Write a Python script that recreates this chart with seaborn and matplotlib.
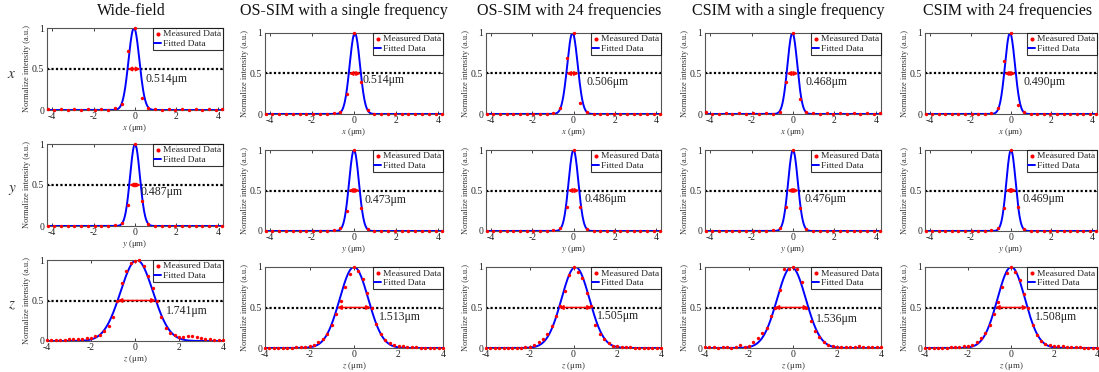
import numpy as np
import pandas as pd
import matplotlib
matplotlib.use("Agg")
import matplotlib.pyplot as plt
import seaborn as sns

# ---------------- data ----------------
titles = ["Wide-field", "OS-SIM with a single frequency", "OS-SIM with 24 frequencies",
          "CSIM with a single frequency", "CSIM with 24 frequencies"]
row_names = ["x", "y", "z"]
xtick_vals = [-4, -2, 0, 2, 4]
ytick_vals = [0, 0.5, 1]

# lateral sampling positions (um)
lat_x = [-4.225, -3.9, -3.575, -3.25, -2.925, -2.6, -2.275, -1.95, -1.625, -1.3, -0.975,
         -0.65, -0.325, 0.0, 0.325, 0.65,
         0.975, 1.3, 1.625, 1.95, 2.275, 2.6, 2.925, 3.25, 3.575, 3.9, 4.225]
# axial sampling positions (um)
ax_x = [-4.0, -3.8, -3.6, -3.4, -3.2, -3.0, -2.8, -2.6, -2.4, -2.2, -2.0, -1.8, -1.6, -1.4,
        -1.2, -1.0, -0.8, -0.6, -0.4, -0.2, 0.0, 0.2, 0.4, 0.6, 0.8, 1.0, 1.2, 1.4, 1.6,
        1.8, 2.0, 2.2, 2.4, 2.6, 2.8, 3.0, 3.2, 3.4, 3.6, 3.8, 4.0]

# measured data, x profiles
wf_x   = [0.01, 0.005, 0.01, 0.005, 0.01, 0.005, 0.01, 0.005, 0.01, 0.005, 0.02,
          0.07, 0.72, 1.0, 0.15, 0.02,
          0.01, 0.005, 0.01, 0.005, 0.01, 0.005, 0.01, 0.005, 0.01, 0.005, 0.01]
os1_x  = [0.005, 0.005, 0.005, 0.005, 0.005, 0.005, 0.005, 0.005, 0.005, 0.005, 0.01,
          0.02, 0.25, 1.0, 0.40, 0.045,
          0.005, 0.005, 0.005, 0.005, 0.005, 0.005, 0.005, 0.005, 0.005, 0.005, 0.005]
os24_x = [0.005, 0.005, 0.005, 0.005, 0.005, 0.005, 0.005, 0.005, 0.005, 0.005, 0.01,
          0.07, 0.69, 1.0, 0.13, 0.02,
          0.005, 0.005, 0.005, 0.005, 0.005, 0.005, 0.005, 0.005, 0.005, 0.005, 0.005]
cs1_x  = [0.03, 0.005, 0.005, 0.01, 0.005, 0.01, 0.005, 0.01, 0.005, 0.01, 0.005,
          0.03, 0.39, 1.0, 0.18, 0.02,
          0.01, 0.005, 0.01, 0.005, 0.015, 0.005, 0.01, 0.005, 0.01, 0.005, 0.01]
cs24_x = [0.005, 0.005, 0.005, 0.005, 0.005, 0.005, 0.005, 0.005, 0.005, 0.005, 0.01,
          0.07, 0.66, 1.0, 0.11, 0.02,
          0.005, 0.005, 0.005, 0.005, 0.005, 0.005, 0.005, 0.005, 0.005, 0.005, 0.005]
# measured data, y profiles
wf_y   = [0.005, 0.005, 0.005, 0.005, 0.005, 0.005, 0.005, 0.005, 0.005, 0.005, 0.01,
          0.04, 0.26, 1.0, 0.31, 0.03,
          0.005, 0.005, 0.005, 0.005, 0.005, 0.005, 0.005, 0.005, 0.005, 0.005, 0.005]
os1_y  = [0.005, 0.005, 0.005, 0.005, 0.005, 0.005, 0.005, 0.005, 0.005, 0.005, 0.01,
          0.04, 0.25, 1.0, 0.28, 0.03,
          0.005, 0.005, 0.005, 0.005, 0.005, 0.005, 0.005, 0.005, 0.005, 0.005, 0.005]
os24_y = [0.005, 0.005, 0.005, 0.005, 0.005, 0.005, 0.005, 0.005, 0.005, 0.005, 0.01,
          0.04, 0.30, 1.0, 0.30, 0.03,
          0.005, 0.005, 0.005, 0.005, 0.005, 0.005, 0.005, 0.005, 0.005, 0.005, 0.005]
cs1_y  = [0.005, 0.005, 0.005, 0.005, 0.005, 0.005, 0.005, 0.005, 0.005, 0.005, 0.01,
          0.04, 0.30, 1.0, 0.28, 0.03,
          0.005, 0.005, 0.005, 0.005, 0.005, 0.005, 0.005, 0.005, 0.005, 0.005, 0.005]
cs24_y = [0.005, 0.005, 0.005, 0.005, 0.005, 0.005, 0.005, 0.005, 0.005, 0.005, 0.01,
          0.04, 0.28, 1.0, 0.30, 0.03,
          0.005, 0.005, 0.005, 0.005, 0.005, 0.005, 0.005, 0.005, 0.005, 0.005, 0.005]
# measured data, z profiles
wf_z   = [0.01, 0.01, 0.01, 0.01, 0.015, 0.02, 0.02, 0.025, 0.03, 0.035, 0.04, 0.06, 0.08,
          0.12, 0.19, 0.30, 0.50, 0.72, 0.86, 0.96, 0.99, 1.0, 0.93, 0.80, 0.65, 0.50,
          0.30, 0.16, 0.10, 0.07, 0.05, 0.05, 0.06, 0.06, 0.05, 0.04, 0.03, 0.02, 0.015,
          0.01, 0.01]
os1_z  = [0.005, 0.005, 0.005, 0.005, 0.005, 0.005, 0.005, 0.01, 0.01, 0.015, 0.02, 0.04,
          0.07, 0.11, 0.17, 0.28, 0.42, 0.58, 0.75, 0.91, 1.0, 0.95, 0.85, 0.68, 0.50,
          0.30, 0.17, 0.10, 0.06, 0.04, 0.03, 0.02, 0.015, 0.01, 0.01, 0.005, 0.005, 0.005,
          0.005, 0.005, 0.005]
os24_z = [0.005, 0.005, 0.005, 0.005, 0.005, 0.005, 0.005, 0.005, 0.005, 0.01, 0.015, 0.04,
          0.07, 0.11, 0.17, 0.27, 0.40, 0.52, 0.70, 0.90, 1.0, 0.94, 0.86, 0.68, 0.52,
          0.29, 0.17, 0.11, 0.06, 0.03, 0.02, 0.015, 0.01, 0.01, 0.005, 0.005, 0.005, 0.005,
          0.005, 0.005, 0.005]
cs1_z  = [0.01, 0.01, 0.01, 0.005, 0.01, 0.01, 0.005, 0.01, 0.04, 0.015, 0.025, 0.07, 0.12,
          0.18, 0.25, 0.40, 0.50, 0.72, 0.98, 0.98, 1.0, 0.97, 0.81, 0.50, 0.33, 0.21,
          0.14, 0.08, 0.04, 0.02, 0.015, 0.01, 0.01, 0.015, 0.01, 0.02, 0.015, 0.01, 0.015,
          0.01, 0.01]
cs24_z = [0.005, 0.005, 0.005, 0.005, 0.005, 0.005, 0.01, 0.01, 0.015, 0.02, 0.025, 0.04,
          0.07, 0.12, 0.18, 0.28, 0.42, 0.57, 0.75, 0.92, 1.0, 0.94, 0.84, 0.67, 0.49,
          0.28, 0.16, 0.09, 0.05, 0.04, 0.03, 0.025, 0.02, 0.015, 0.01, 0.01, 0.01, 0.005,
          0.005, 0.005, 0.005]

measured = [[wf_x, os1_x, os24_x, cs1_x, cs24_x],
            [wf_y, os1_y, os24_y, cs1_y, cs24_y],
            [wf_z, os1_z, os24_z, cs1_z, cs24_z]]

# Gaussian fit parameters (center, FWHM in um)
fit_center = [[-0.05, 0.04, -0.05, -0.03, -0.05],
              [0.0, 0.0, 0.0, 0.0, 0.0],
              [0.08, 0.0, 0.09, -0.07, 0.01]]
fit_fwhm = [[0.62, 0.58, 0.60, 0.56, 0.58],
            [0.56, 0.55, 0.56, 0.55, 0.54],
            [1.741, 1.513, 1.505, 1.536, 1.508]]
fwhm_labels = [["0.514μm", "0.514μm", "0.506μm", "0.468μm", "0.490μm"],
               ["0.487μm", "0.473μm", "0.486μm", "0.476μm", "0.469μm"],
               ["1.741μm", "1.513μm", "1.505μm", "1.536μm", "1.508μm"]]
label_x = [[0.53, 0.40, 0.63, 0.62, 0.60],
           [0.26, 0.52, 0.55, 0.55, 0.55],
           [1.40, 1.10, 1.06, 1.04, 1.11]]
label_y = [[0.38, 0.42, 0.40, 0.40, 0.40],
           [0.41, 0.38, 0.40, 0.40, 0.40],
           [0.375, 0.38, 0.395, 0.36, 0.38]]

# ---------------- style ----------------
sns.set_theme(style="white")
plt.rcParams["font.family"] = ["Liberation Serif", "DejaVu Serif"]
plt.rcParams["mathtext.fontset"] = "stix"
plt.rcParams["axes.unicode_minus"] = False

fig = plt.figure(figsize=(10.99, 3.72), dpi=100)
W, H = 1099.0, 372.0

col_left = [47, 265, 486, 705, 925]
col_right = [223, 443, 661, 881, 1097]
row_top = [[28, 33, 33, 33, 33], [144, 150, 150, 150, 150], [260, 267, 267, 267, 267]]
row_bot = [[110, 114, 114, 114, 114], [226, 231, 231, 231, 231], [341, 348, 348, 348, 348]]
title_x = [131, 344, 569, 788, 1008]
rowlab_y = [75, 190, 305]

for r in range(3):
    for c in range(5):
        l, rr = col_left[c], col_right[c]
        t, b = row_top[r][c], row_bot[r][c]
        ax = fig.add_axes([l / W, 1 - b / H, (rr - l) / W, (b - t) / H])
        xs = lat_x if r < 2 else ax_x
        df = pd.DataFrame({"pos": xs, "val": measured[r][c]})
        cen, fw = fit_center[r][c], fit_fwhm[r][c]
        sig = fw / 2.3548
        xf = np.linspace(-4.3, 4.3, 500)
        dff = pd.DataFrame({"pos": xf, "val": np.exp(-(xf - cen) ** 2 / (2 * sig ** 2))})

        ax.axhline(0.5, color="black", ls=(0, (1, 1)), lw=1.6, zorder=1)
        sns.lineplot(data=dff, x="pos", y="val", ax=ax, color="#0000ff", lw=1.4,
                     label="Fitted Data", estimator=None, sort=False, zorder=2)
        sns.scatterplot(data=df, x="pos", y="val", ax=ax, color="#ff0000", s=6,
                        linewidth=0, label="Measured Data", zorder=3, clip_on=False)
        ax.annotate("", xy=(cen - fw / 2, 0.5), xytext=(cen + fw / 2, 0.5),
                    arrowprops=dict(arrowstyle="<|-|>", color="#ff0000", lw=1.1,
                                    mutation_scale=6, shrinkA=0, shrinkB=0), zorder=4)
        ax.text(label_x[r][c], label_y[r][c], fwhm_labels[r][c], fontsize=8.5,
                va="center", ha="left", color="#222222")

        if r < 2:
            ax.set_xlim(-4.25, 4.25)
        else:
            ax.set_xlim(-4.0, 4.0)
        ax.set_ylim(0, 1)
        ax.set_xticks(xtick_vals)
        ax.set_xticklabels([str(v) for v in xtick_vals])
        ax.set_yticks(ytick_vals)
        ax.set_yticklabels(["0", "0.5", "1"])
        ax.tick_params(direction="in", length=2, width=0.6, labelsize=7,
                       top=True, right=True, bottom=True, left=True, colors="#222222")
        ax.tick_params(axis="x", pad=1.5)
        ax.tick_params(axis="y", pad=2)
        for s in ax.spines.values():
            s.set_color("#555555")
            s.set_linewidth(0.8)
        ax.set_xlabel(f"${row_names[r]}$ (μm)", fontsize=6.3, labelpad=1, color="#333333")
        ax.set_ylabel("Normalize intensity (a.u.)", fontsize=6, labelpad=1, color="#333333")

        h, lab = ax.get_legend_handles_labels()
        order = [lab.index("Measured Data"), lab.index("Fitted Data")]
        leg = ax.legend([h[i] for i in order], [lab[i] for i in order], loc="upper right",
                        fontsize=6.8, frameon=True, fancybox=False, borderaxespad=0,
                        handlelength=0.7, handletextpad=0.2, borderpad=0.2,
                        labelspacing=0.1, markerscale=1.2)
        leg.get_frame().set_edgecolor("black")
        leg.get_frame().set_linewidth(0.8)

for c in range(5):
    fig.text(title_x[c] / W, 1 - 11 / H, titles[c], fontsize=11.5, ha="center",
             va="center", color="#111111")
for r in range(3):
    fig.text(12 / W, 1 - rowlab_y[r] / H, f"${row_names[r]}$", fontsize=11,
             ha="center", va="center", color="#333333")

fig.savefig("out.png", dpi=100, facecolor="white")
